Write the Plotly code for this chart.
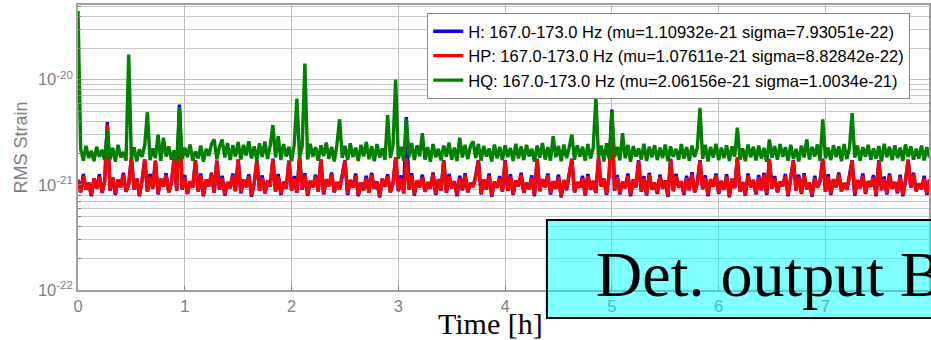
import numpy as np
import plotly.graph_objects as go

# time step between samples [h]
dt = 0.025

# RMS strain values in units of 1e-21
h_vals = [
    1.12,0.85,1.27,0.90,1.05,0.78,1.15,0.92,1.26,0.84,1.08,3.95,0.88,1.18,0.80,1.12,0.95,1.30,0.86,1.02,
    1.82,0.90,1.15,0.78,1.10,1.75,0.86,1.27,0.92,1.70,0.81,1.14,0.96,1.29,0.85,1.05,1.78,0.88,5.80,0.90,
    1.24,0.82,1.08,0.94,1.72,0.86,1.28,0.78,1.12,0.97,1.30,0.84,1.70,0.90,1.22,0.79,1.06,0.93,1.28,0.87,
    1.75,0.83,1.12,0.95,1.26,0.77,1.04,1.72,0.88,1.23,0.83,1.10,0.96,1.77,0.86,1.27,0.80,1.07,0.92,1.70,
    0.88,1.21,0.84,1.82,0.90,1.29,0.79,1.09,0.95,1.25,0.86,1.75,0.81,1.13,0.97,1.31,0.85,1.06,0.91,1.24,
    1.72,0.80,1.11,0.94,1.28,0.78,1.05,0.89,1.22,0.84,1.30,0.92,1.08,0.76,1.14,0.96,1.26,0.85,1.03,1.82,
    0.87,1.23,0.83,4.40,0.90,1.29,0.79,1.10,0.95,1.25,0.86,1.06,0.92,1.31,0.80,1.13,0.88,1.72,0.84,1.27,
    0.93,1.08,0.78,1.22,0.89,1.29,0.85,1.04,0.96,1.24,1.72,0.81,1.12,0.90,1.28,0.77,1.07,0.94,1.21,0.86,
    1.72,0.88,1.26,0.80,1.10,0.97,1.30,0.84,1.05,0.91,1.23,0.78,1.77,0.87,1.13,0.95,1.28,0.81,1.08,0.92,
    1.25,0.76,1.11,0.89,1.31,1.77,0.85,1.06,0.94,1.22,0.79,1.27,0.90,1.09,0.84,1.82,0.96,1.14,0.80,1.29,
    5.20,0.88,1.24,0.81,1.07,0.93,1.28,0.78,1.12,0.95,1.72,0.86,1.21,0.79,1.30,0.90,1.05,0.82,1.25,0.92,
    1.10,0.77,1.77,0.87,1.27,0.94,1.08,0.80,1.22,0.89,1.32,0.85,1.04,1.72,0.91,1.23,0.78,1.13,0.96,1.28,
    0.82,1.09,0.90,1.26,0.76,1.14,0.93,1.82,0.86,1.06,0.79,1.28,0.95,1.11,0.81,1.24,0.89,1.30,0.80,1.77,
    0.92,1.21,0.85,1.07,0.97,1.27,0.78,1.12,1.72,0.88,1.25,0.82,1.29,0.91,1.05,0.77,1.22,0.94,1.09,1.77,
    0.86,1.26,0.80,1.13,0.95,1.31,0.87,1.04,0.90,1.23,1.72,0.79,1.11,0.93,1.28,0.82,1.08,0.96,1.24,0.78,
    1.72,0.89,1.20,0.81,1.28,0.92,1.06,0.83,1.25,0.78,1.10,1.74,0.94,1.30,0.87,1.03,0.91,1.22,0.80,1.12,
]

hp_vals = [
    1.10,0.85,1.22,0.90,1.05,0.80,1.15,0.92,1.20,0.84,1.08,3.75,0.88,1.18,0.82,1.12,0.95,1.25,0.86,1.02,
    1.80,0.90,1.15,0.80,1.10,1.75,0.86,1.20,0.92,1.70,0.83,1.14,0.96,1.24,0.85,1.05,1.75,0.88,5.00,0.90,
    1.18,0.82,1.08,0.94,1.70,0.86,1.22,0.80,1.12,0.97,1.26,0.84,1.70,0.90,1.16,0.81,1.06,0.93,1.23,0.87,
    1.75,0.85,1.12,0.95,1.20,0.79,1.04,1.70,0.88,1.17,0.83,1.10,0.96,1.75,0.86,1.21,0.82,1.07,0.92,1.70,
    0.88,1.15,0.84,1.80,0.90,1.24,0.81,1.09,0.95,1.19,0.86,1.75,0.83,1.13,0.97,1.27,0.85,1.06,0.91,1.18,
    1.70,0.82,1.11,0.94,1.22,0.80,1.05,0.89,1.16,0.84,1.25,0.92,1.08,0.78,1.14,0.96,1.20,0.85,1.03,1.80,
    0.87,1.17,0.83,1.80,0.90,1.23,0.81,1.10,0.95,1.19,0.86,1.06,0.92,1.26,0.82,1.13,0.88,1.70,0.84,1.21,
    0.93,1.08,0.80,1.16,0.89,1.24,0.85,1.04,0.96,1.18,1.70,0.83,1.12,0.90,1.22,0.79,1.07,0.94,1.15,0.86,
    1.70,0.88,1.20,0.82,1.10,0.97,1.25,0.84,1.05,0.91,1.17,0.80,1.75,0.87,1.13,0.95,1.23,0.83,1.08,0.92,
    1.19,0.78,1.11,0.89,1.26,1.75,0.85,1.06,0.94,1.16,0.81,1.21,0.90,1.09,0.84,1.80,0.96,1.14,0.82,1.24,
    4.80,0.88,1.18,0.83,1.07,0.93,1.22,0.80,1.12,0.95,1.70,0.86,1.15,0.81,1.25,0.90,1.05,0.84,1.19,0.92,
    1.10,0.79,1.75,0.87,1.21,0.94,1.08,0.82,1.16,0.89,1.27,0.85,1.04,1.70,0.91,1.17,0.80,1.13,0.96,1.23,
    0.84,1.09,0.90,1.20,0.78,1.14,0.93,1.80,0.86,1.06,0.81,1.22,0.95,1.11,0.83,1.18,0.89,1.25,0.82,1.75,
    0.92,1.15,0.85,1.07,0.97,1.21,0.80,1.12,1.70,0.88,1.19,0.84,1.24,0.91,1.05,0.79,1.16,0.94,1.09,1.75,
    0.86,1.20,0.82,1.13,0.95,1.26,0.87,1.04,0.90,1.17,1.70,0.81,1.11,0.93,1.22,0.84,1.08,0.96,1.18,0.80,
    1.70,0.89,1.14,0.83,1.23,0.92,1.06,0.85,1.19,0.80,1.10,1.72,0.94,1.25,0.87,1.03,0.91,1.16,0.82,1.12,
]

hq_vals = [
    45.0,2.20,1.70,2.35,1.80,2.10,1.68,2.30,1.85,2.15,1.72,3.30,1.75,2.25,1.66,2.40,1.82,2.05,1.70,17.30,
    1.78,2.28,1.67,2.18,1.84,2.38,4.90,1.72,2.22,1.80,3.00,1.69,2.80,1.86,2.32,1.74,2.12,1.65,5.50,1.76,
    2.26,1.83,2.42,1.70,2.08,1.78,2.36,1.66,2.20,1.88,2.45,2.70,1.75,2.30,2.70,1.82,2.50,1.72,2.38,1.86,
    2.55,1.74,2.40,1.90,2.60,1.78,2.32,1.70,2.48,1.84,2.58,1.76,2.36,3.70,1.82,2.90,1.72,2.44,1.86,2.30,
    1.68,2.40,6.60,1.80,2.34,14.20,1.74,2.46,1.85,2.28,1.70,2.38,1.88,2.52,1.76,2.30,1.67,2.42,4.20,1.80,
    2.35,1.72,2.48,1.84,2.26,1.69,2.40,1.86,2.55,1.75,2.32,1.68,2.44,1.82,2.22,1.73,4.60,1.80,2.36,10.00,
    1.76,2.30,1.70,4.25,1.84,2.50,1.72,2.38,1.87,3.10,1.74,2.28,1.66,2.44,1.83,2.20,1.71,2.36,1.85,2.52,
    1.73,2.26,1.68,2.80,1.82,2.40,1.75,2.32,2.60,1.80,2.45,1.70,2.34,1.86,2.22,1.67,2.42,1.79,2.30,1.72,
    2.38,1.84,2.24,1.69,2.46,1.78,2.32,1.72,2.40,1.86,2.20,1.66,2.36,1.81,2.50,1.74,2.28,1.70,2.90,1.83,
    2.34,1.68,2.42,1.80,2.26,3.00,1.73,2.38,1.85,2.30,1.70,2.44,1.78,2.24,6.70,1.82,2.36,1.67,2.48,1.76,
    5.00,1.84,2.30,1.71,3.10,1.79,2.40,1.66,2.34,1.86,2.22,1.74,2.46,1.69,2.30,1.83,2.38,1.72,2.26,1.80,
    2.42,1.68,2.32,1.85,2.20,1.73,2.44,1.78,2.28,1.70,2.36,1.84,2.24,5.40,1.76,2.40,1.67,2.30,1.82,2.46,
    1.72,2.26,1.80,2.38,1.69,2.32,1.86,3.50,1.74,2.22,1.68,2.42,1.83,2.30,1.71,2.36,1.78,2.24,1.66,2.70,
    1.81,2.34,1.73,2.44,1.85,2.28,1.70,2.40,1.77,2.20,1.67,2.36,1.82,2.70,1.74,2.30,1.86,2.42,1.69,4.20,
    1.79,2.26,1.72,2.38,1.84,2.32,1.68,2.44,1.76,2.24,4.80,1.81,2.36,1.70,2.28,1.85,2.40,1.73,2.22,1.78,
    2.34,1.67,2.46,1.83,2.30,1.72,2.38,1.80,2.26,1.69,2.42,1.84,2.32,1.74,2.20,1.78,2.36,1.71,2.28,1.82,
]

series_names = [
    "H: 167.0-173.0 Hz (mu=1.10932e-21 sigma=7.93051e-22)",
    "HP: 167.0-173.0 Hz (mu=1.07611e-21 sigma=8.82842e-22)",
    "HQ: 167.0-173.0 Hz (mu=2.06156e-21 sigma=1.0034e-21)",
]
series_colors = ["#0000ff", "#ff0000", "#008000"]

x_ticks = [0, 1, 2, 3, 4, 5, 6, 7]
y_decades = [-22, -21, -20]
minor_factors = [2, 3, 4, 5, 6, 7, 8, 9]

unit = 1e-21

fig = go.Figure()
for name, vals, col in zip(series_names, [h_vals, hp_vals, hq_vals], series_colors):
    t = np.arange(len(vals)) * dt
    fig.add_trace(go.Scatter(
        x=t, y=np.array(vals) * unit, mode="lines", name=name,
        line=dict(color=col, width=3.4),
    ))

major_vals = [10.0 ** d for d in y_decades]
major_text = [f"10<sup>{d}</sup>" for d in y_decades]
minor_vals = [k * 10.0 ** d for d in y_decades for k in minor_factors]

gray = "#808080"
fig.update_layout(
    width=931, height=340,
    margin=dict(l=78, r=0, t=5, b=50),
    paper_bgcolor="white", plot_bgcolor="white",
    font=dict(family="Liberation Sans, Arial, sans-serif", size=16, color=gray),
    showlegend=True,
    legend=dict(
        x=0.978, y=0.972, xanchor="right", yanchor="top",
        bgcolor="white", bordercolor="#888888", borderwidth=1,
        font=dict(size=16.5, color="black"),
        tracegroupgap=0,
    ),
    xaxis=dict(
        range=[0, 7.97], tickvals=x_ticks, ticktext=[str(v) for v in x_ticks],
        showgrid=True, gridcolor="#bdbdbd", gridwidth=1,
        showline=True, linecolor="#a0a0a0", linewidth=1.5, mirror=True,
        ticks="inside", ticklen=4, tickcolor=gray, zeroline=False,
        tickfont=dict(size=16.5, color=gray),
    ),
    yaxis=dict(
        type="log", range=[-22, -19.29],
        tickmode="array", tickvals=major_vals, ticktext=major_text,
        showgrid=True, gridcolor="#c0c0c0", gridwidth=1,
        minor=dict(tickmode="array", tickvals=minor_vals, showgrid=True,
                   gridcolor="#c8c8c8", gridwidth=1, ticks="inside", ticklen=3,
                   tickcolor=gray),
        showline=True, linecolor="#a0a0a0", linewidth=1.5, mirror=True,
        ticks="inside", ticklen=4, tickcolor=gray, zeroline=False,
        tickfont=dict(size=16.5, color=gray),
        title=dict(text="RMS Strain", font=dict(size=18, color=gray), standoff=6),
    ),
)

# overlay box from the slide
fig.add_shape(
    type="rect", xref="paper", yref="paper",
    x0=0.551, x1=1.1, y0=-0.098, y1=0.2456,
    fillcolor="rgba(0,255,255,0.5)", line=dict(color="black", width=2),
    layer="above",
)
fig.add_annotation(
    xref="paper", yref="paper", x=0.606, y=0.055, xanchor="left", yanchor="middle",
    text="Det. output B", showarrow=False,
    font=dict(family="Liberation Serif, Times New Roman, serif", size=64, color="black"),
)
fig.add_annotation(
    xref="paper", yref="paper", x=0.485, y=-0.117, xanchor="center", yanchor="middle",
    text="Time [h]", showarrow=False,
    font=dict(family="Liberation Serif, Times New Roman, serif", size=30, color="black"),
)

fig.write_html("out.html")
